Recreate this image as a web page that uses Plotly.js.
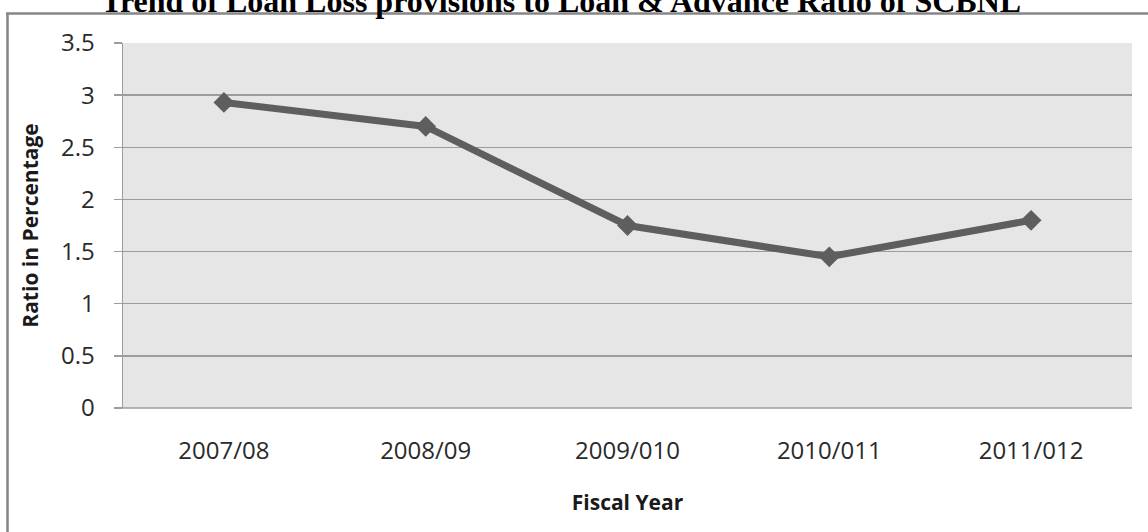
<!DOCTYPE html>
<html>
<head>
<meta charset="utf-8">
<script src="https://cdn.plot.ly/plotly-3.0.1.min.js"></script>
<style>
  html, body { margin: 0; padding: 0; background: #ffffff; }
  #chart { width: 1148px; height: 532px; }
</style>
</head>
<body>
<div id="chart"></div>
<script>
// Fiscal years on the category axis
const fiscalYears = ['2007/08', '2008/09', '2009/010', '2010/011', '2011/012'];
// Loan loss provisions to loan & advance ratio (%)
const provisionRatio = [2.93, 2.70, 1.75, 1.45, 1.80];
// Value axis ticks
const yTickValues = [0, 0.5, 1, 1.5, 2, 2.5, 3, 3.5];
const yTickLabels = ['0', '0.5', '1', '1.5', '2', '2.5', '3', '3.5'];

const chartTitle = 'Trend of Loan Loss provisions to Loan &amp; Advance Ratio of SCBNL';

const W = 1148, H = 532;
const margin = { l: 123, r: 16, t: 43, b: 124 };
const plotW = W - margin.l - margin.r;
const plotH = H - margin.t - margin.b;
// convert page pixels to paper fractions for the outer frame
const px = x => (x - margin.l) / plotW;
const py = y => (H - margin.b - y) / plotH;

const frameColor = '#868686';
const gridColor = '#9c9c9c';

const trace = {
  type: 'scatter',
  mode: 'lines+markers',
  x: fiscalYears,
  y: provisionRatio,
  line: { color: '#5e5e5e', width: 7 },
  marker: { symbol: 'diamond', size: 16, color: '#5e5e5e' },
  hoverinfo: 'x+y',
  showlegend: false
};

const layout = {
  width: W,
  height: H,
  margin: margin,
  paper_bgcolor: '#ffffff',
  plot_bgcolor: '#e6e6e6',
  showlegend: false,
  title: {
    text: '<b>' + chartTitle + '</b>',
    font: { family: 'Liberation Serif, Times New Roman, serif', size: 32, color: '#000000' },
    xref: 'container', yref: 'container',
    x: 561 / W, xanchor: 'center',
    y: 1 - 11.5 / H, yanchor: 'bottom'
  },
  xaxis: {
    type: 'category',
    range: [-0.5, fiscalYears.length - 0.5],
    showgrid: false,
    zeroline: false,
    showline: false,
    ticks: '',
    ticklabelstandoff: 26,
    tickfont: { family: 'Open Sans, sans-serif', size: 24, color: '#2a2a2a' },
    title: {
      text: '<b>Fiscal Year</b>',
      font: { family: 'Open Sans, sans-serif', size: 21, color: '#1a1a1a' },
      standoff: 30
    },
    fixedrange: true
  },
  yaxis: {
    range: [0, 3.5],
    tickvals: yTickValues,
    ticktext: yTickLabels,
    showgrid: true,
    gridcolor: gridColor,
    gridwidth: 1.5,
    zeroline: false,
    showline: true,
    linecolor: gridColor,
    linewidth: 1.5,
    ticks: 'outside',
    ticklen: 8,
    tickwidth: 1.5,
    tickcolor: gridColor,
    ticklabelstandoff: 14,
    tickfont: { family: 'Open Sans, sans-serif', size: 24, color: '#2a2a2a' },
    title: {
      text: '<b>Ratio in Percentage</b>',
      font: { family: 'Open Sans, sans-serif', size: 21, color: '#1a1a1a' },
      standoff: 16
    },
    fixedrange: true
  },
  shapes: [
    // bottom axis line carried out to the tick column
    { type: 'line', xref: 'paper', yref: 'paper', x0: px(115), x1: 1, y0: 0, y1: 0,
      line: { color: gridColor, width: 1.5 }, layer: 'above' },
    // outer chart frame (top and left edges)
    { type: 'line', xref: 'paper', yref: 'paper', x0: px(6), x1: px(1152), y0: py(13.5), y1: py(13.5),
      line: { color: frameColor, width: 2.5 }, layer: 'below' },
    { type: 'line', xref: 'paper', yref: 'paper', x0: px(7.5), x1: px(7.5), y0: py(13), y1: py(540),
      line: { color: frameColor, width: 2.5 }, layer: 'below' }
  ]
};

Plotly.newPlot('chart', [trace], layout, { displayModeBar: false, staticPlot: true });
</script>
</body>
</html>
